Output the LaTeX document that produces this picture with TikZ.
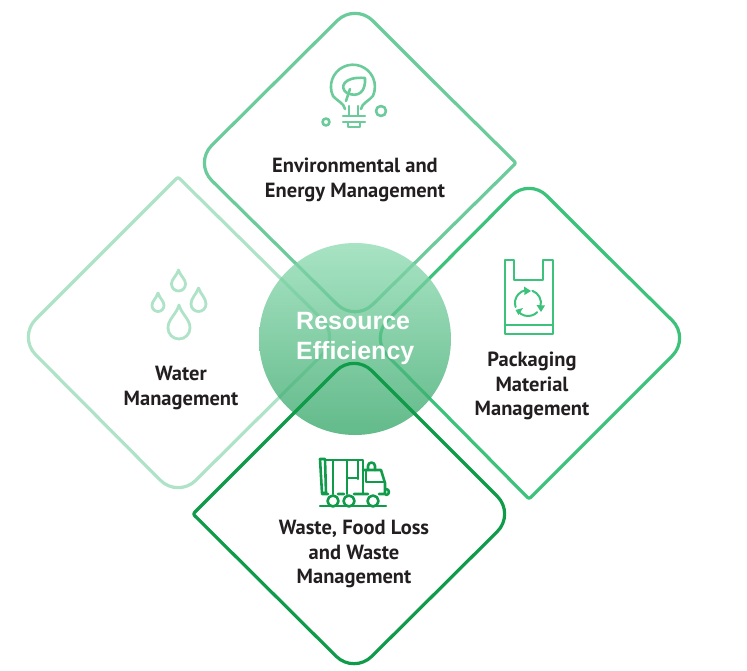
\documentclass[tikz,border=0pt]{standalone}
\usepackage{fontspec}
\setmainfont{PT Sans}
\newfontfamily\resfont{Liberation Sans}
\definecolor{cTop}{HTML}{6CCB9B}
\definecolor{cLeft}{HTML}{AEE3C8}
\definecolor{cRight}{HTML}{3CC27A}
\definecolor{cBot}{HTML}{109B4A}
\definecolor{cText}{HTML}{231F20}
\definecolor{cHubTop}{HTML}{8BDAB0}
\definecolor{cHubBot}{HTML}{2EA363}
\tikzset{
  diamondline/.style={line width=3.2pt,line join=round},
  iconline/.style={line width=2.6pt,line join=round,line cap=round},
  labeltext/.style={text=cText,align=center,inner sep=0pt,font=\fontsize{20.5}{24.5}\selectfont\bfseries},
}
\begin{document}
\begin{tikzpicture}[x=1pt,y=-1pt]
\useasboundingbox (0,0) rectangle (747,670);
% left diamond
\draw[diamondline,cLeft] (98,257) [rounded corners=2pt] -- (178,177) [rounded corners=25pt] -- (340,337) -- (178,498) -- (18,337) -- cycle;
% top diamond
\draw[diamondline,cTop] (435,83) [rounded corners=25pt] -- (355,3) -- (194,163) -- (355,322) [rounded corners=2pt] -- (516,163) [sharp corners] -- cycle;
% right diamond
\draw[diamondline,cRight] (609,258) [rounded corners=25pt] -- (690,338) [rounded corners=2pt] -- (529,499) [rounded corners=25pt] -- (370,338) -- (529,178) [sharp corners] -- cycle;
% centre circle
\node[circle,minimum size=192pt,inner sep=0pt,top color=cHubTop,bottom color=cHubBot,opacity=.75,shading angle=0] (hub) at (355,339) {};
% bottom diamond
\draw[diamondline,cBot] (273,434) [rounded corners=25pt] -- (354,353) -- (515,514) -- (354,674) [rounded corners=2pt] -- (193,514) [sharp corners] -- cycle;
% bulb icon
\begin{scope}[cTop,iconline]
  \draw (345,109) .. controls (344,103) and (337,101) .. (333,96) arc[start angle=155,end angle=385,radius=22] .. controls (369,101) and (362,103) .. (361,109);
  \draw (343,116) -- (365,116) (343,122) -- (365,122);
  \draw (349,106) -- (349,116) (358,106) -- (358,116);
  \draw (348,122) -- (348,127) -- (360,127) -- (360,122);
  \draw (346,101) -- (350,89);
  \draw (347,93) .. controls (339,88) and (343,76) .. (365,78) .. controls (366,92) and (358,98) .. (347,93);
  \draw (381,111) circle[radius=5];
  \draw (326,122) circle[radius=3.5];
\end{scope}
% drops icon
\begin{scope}[cLeft,iconline,line width=2.8pt]
  \draw (178.5,270) .. controls (176,277) and (171.5,279) .. (171.5,284) arc[start angle=180,end angle=0,radius=7] .. controls (185.5,279) and (181,277) .. (178.5,270) -- cycle;
  \draw (158,293) .. controls (156,299) and (152,301) .. (152,305.5) arc[start angle=180,end angle=0,radius=6] .. controls (164,301) and (160,299) .. (158,293) -- cycle;
  \draw (198.5,288) .. controls (196,295) and (191,298) .. (191,304) arc[start angle=180,end angle=0,radius=7.5] .. controls (206,298) and (201,295) .. (198.5,288) -- cycle;
  \draw (179,305) .. controls (176,315) and (168,319) .. (168,328) arc[start angle=180,end angle=0,radius=11] .. controls (190,319) and (182,315) .. (179,305) -- cycle;
\end{scope}
% bag icon
\begin{scope}[cRight,iconline]
  \draw (505,260) -- (514,260) -- (514,280) -- (543,280) -- (543,260) -- (553,260) -- (553,334) -- (505,334) -- cycle;
  \draw (505,325) -- (553,325);
  \draw[line width=2pt] (515.6,307) arc[start angle=162,end angle=260,radius=13];
  \draw[line width=2pt] (532.4,290.8) arc[start angle=290,end angle=375,radius=13];
  \draw[line width=2pt] (537.2,312.2) arc[start angle=45,end angle=140,radius=13];
  \fill (531,291) -- (524,286.5) -- (524.5,295) -- cycle;
  \fill (541,312) -- (536.5,305) -- (545,305.5) -- cycle;
  \fill (515.5,310) -- (523,308) -- (518.5,315) -- cycle;
\end{scope}
% truck icon
\begin{scope}[cBot,iconline]
  \draw (320,459) -- (325,459) -- (326,493) -- (322,493) -- cycle;
  \draw (325,460) -- (363,460) -- (363,494);
  \draw (333,461) -- (333,494) (347,461) -- (347,494) (358,461) -- (358,479) (347,478) -- (358,478);
  \draw (322,494) -- (328,494) (338,494) -- (344,494) (354,494) -- (368,494) (379,494) -- (385,494) -- (385,483) -- (381,470) -- (363,470);
  \draw (366,470) -- (366,482) -- (384,482);
  \draw (368,470) -- (368,466) arc[start angle=180,end angle=360,radius=3.5] -- (375,470);
  \draw (386,489) arc[start angle=-90,end angle=90,radius=3];
  \draw (333,501) circle[radius=5.5];
  \draw (349,501) circle[radius=5.5];
  \draw (373,501) circle[radius=5.5];
  \draw (320,506) -- (386,506);
\end{scope}
% labels
\node[labeltext] (envlabel) at (355,180) {Environmental and\\Energy Management};
\node[labeltext] (waterlabel) at (181,388) {Water\\Management};
\node[labeltext] (packlabel) at (532,386) {Packaging\\Material\\Management};
\node[labeltext] (wastelabel) at (354,554) {Waste, Food Loss\\and Waste\\Management};
\node[text=white,align=left,inner sep=0pt,anchor=west,font=\fontsize{25}{30}\selectfont\resfont\bfseries] (reslabel) at (296,338) {Resource\\Efficiency};
\end{tikzpicture}
\end{document}
